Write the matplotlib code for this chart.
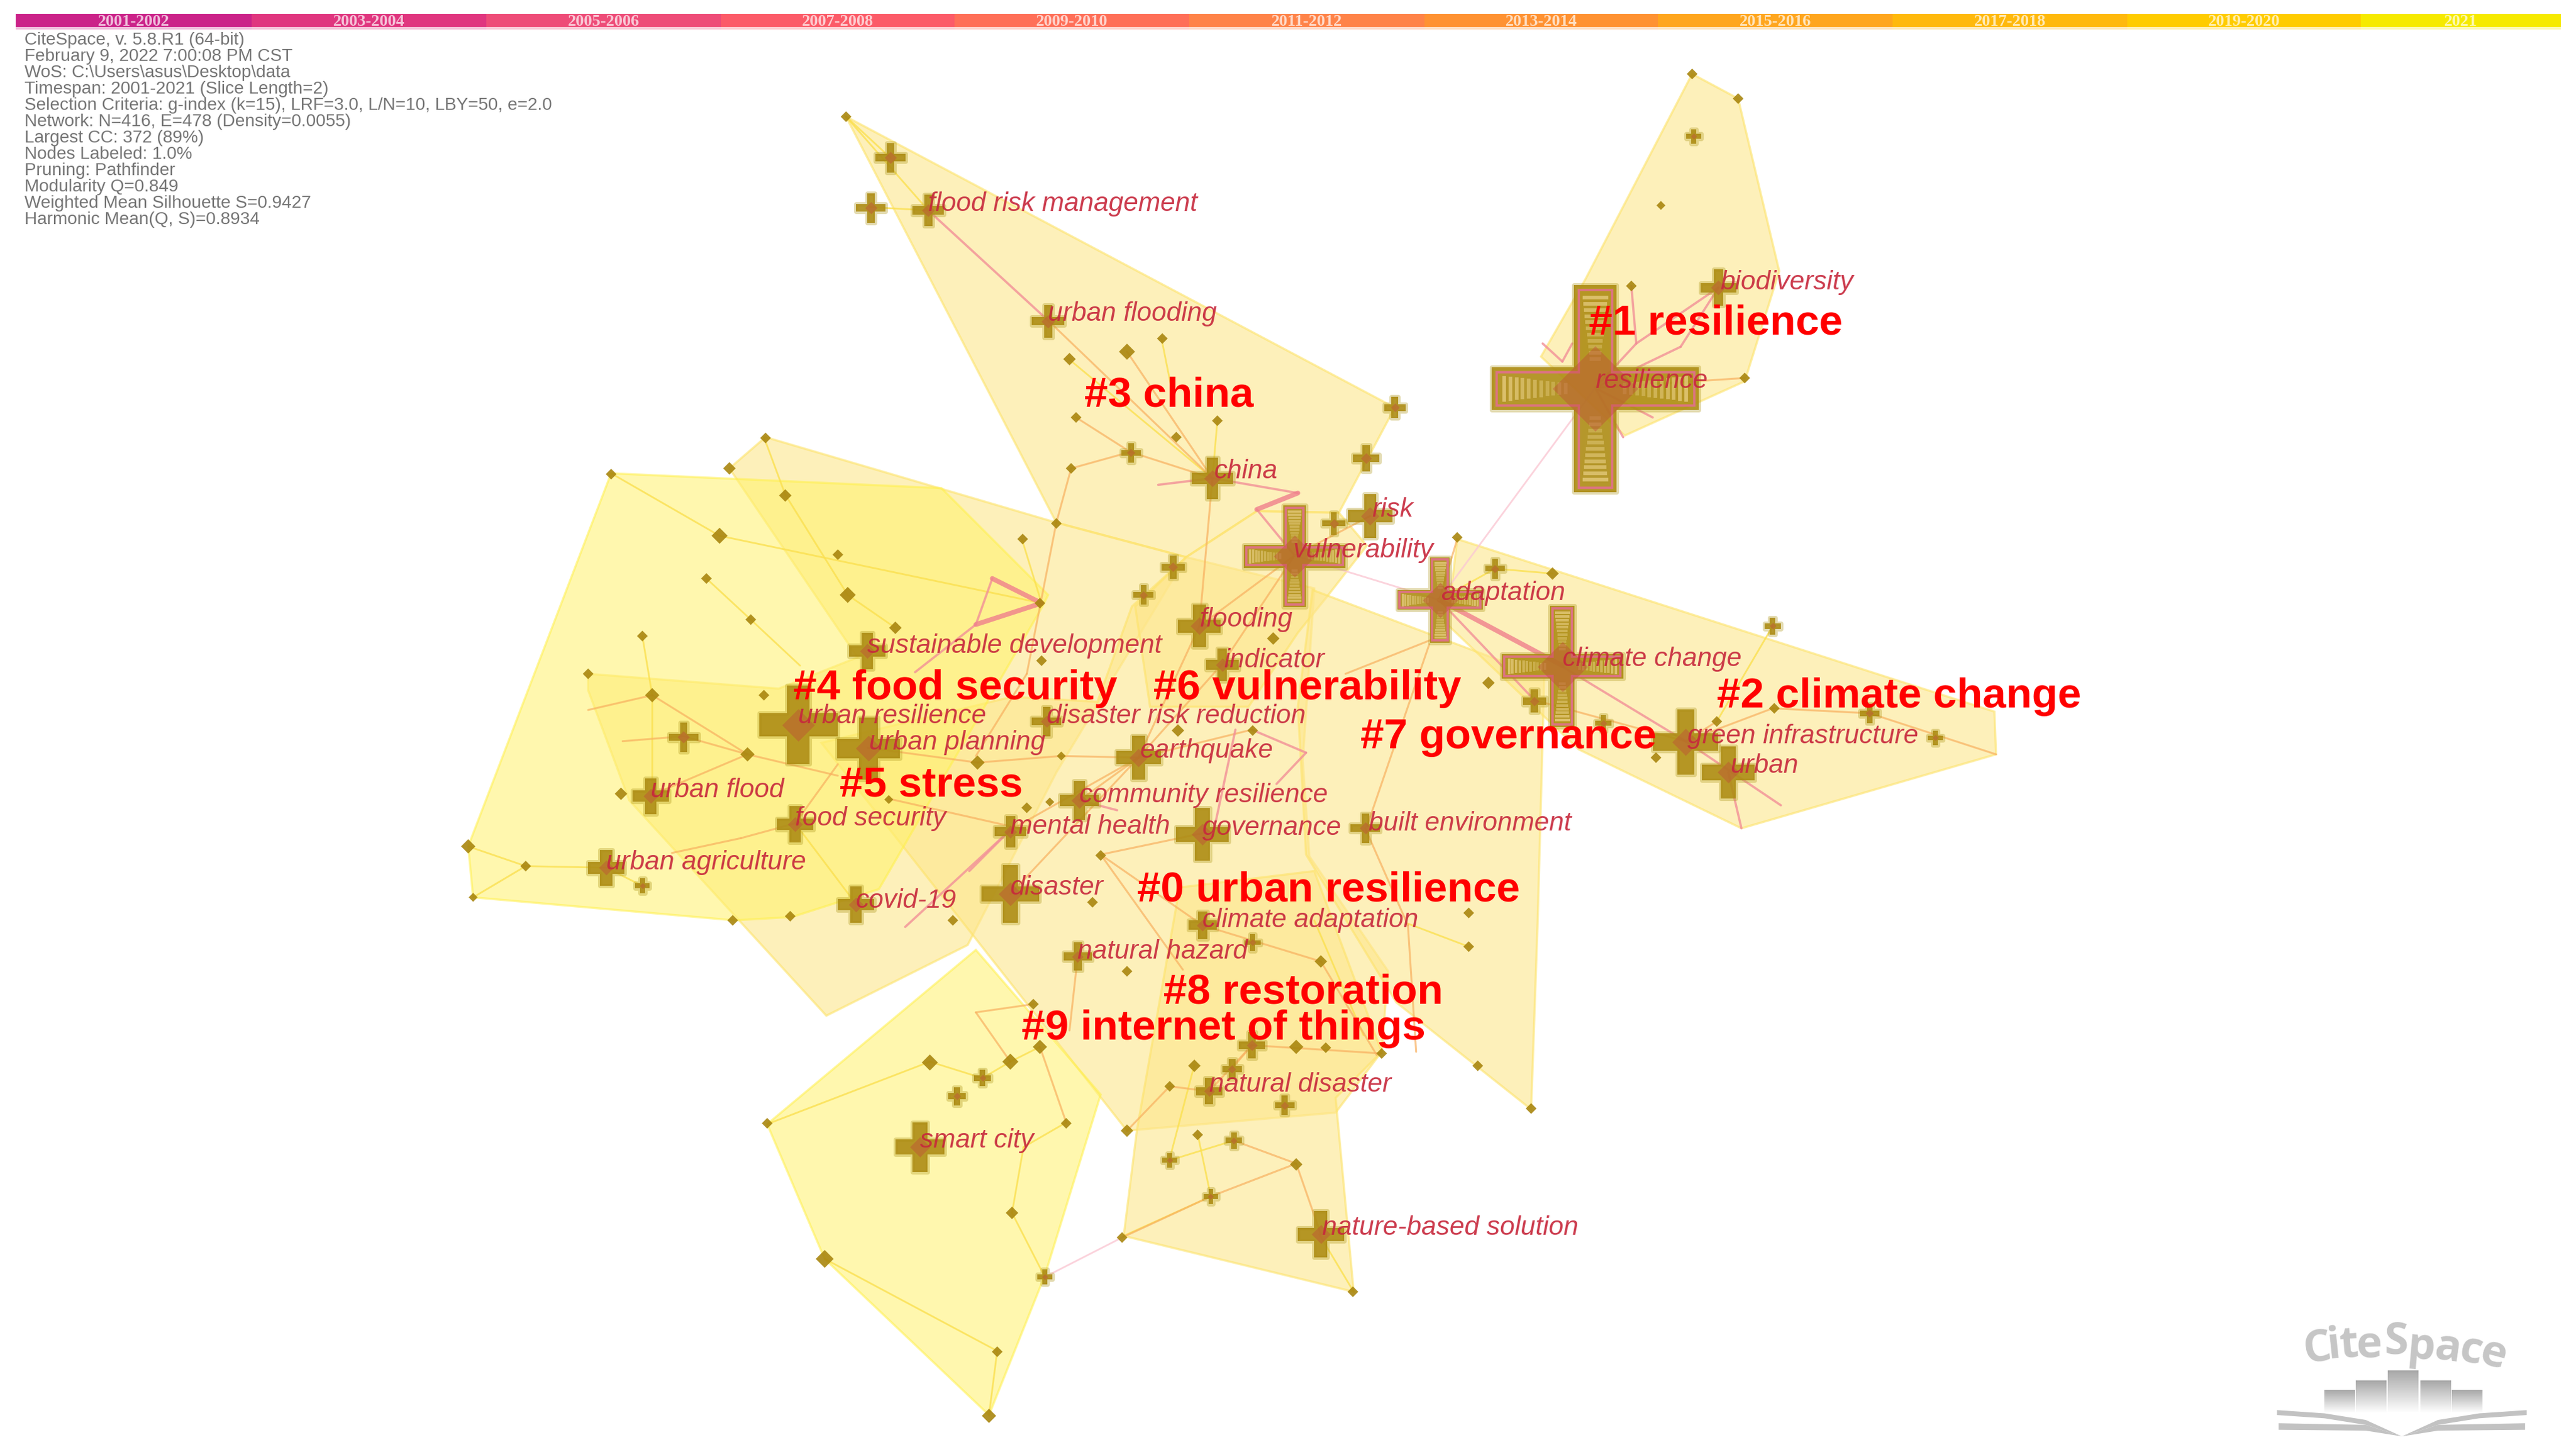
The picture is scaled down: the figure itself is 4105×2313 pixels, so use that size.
import numpy as np
import matplotlib
matplotlib.use('Agg')
import matplotlib.pyplot as plt
from matplotlib.patches import Polygon, Rectangle
from matplotlib.colors import LinearSegmentedColormap

VIEW_W = 1568
VIEW_H = 883.5

info_lines = ['CiteSpace, v. 5.8.R1 (64-bit)',
              'February 9, 2022 7:00:08 PM CST',
              'WoS: C:\\Users\\asus\\Desktop\\data',
              'Timespan: 2001-2021 (Slice Length=2)',
              'Selection Criteria: g-index (k=15), LRF=3.0, L/N=10, LBY=50, e=2.0',
              'Network: N=416, E=478 (Density=0.0055)',
              'Largest CC: 372 (89%)',
              'Nodes Labeled: 1.0%',
              'Pruning: Pathfinder',
              'Modularity Q=0.849',
              'Weighted Mean Silhouette S=0.9427',
              'Harmonic Mean(Q, S)=0.8934']

slice_labels = ['2001-2002', '2003-2004', '2005-2006', '2007-2008', '2009-2010', '2011-2012',
                '2013-2014', '2015-2016', '2017-2018', '2019-2020', '2021']
slice_colors = ['#cb2389', '#e0367f', '#ee4c78', '#fc5b68', '#ff6f58', '#ff8348',
                '#ff9232', '#ffa61e', '#ffb90c', '#ffcc00', '#f6ea00']
slice_edges = [9.5, 153, 296, 439, 581, 724, 867, 1009, 1152, 1295, 1437, 1559]

# cluster hulls, tan ones first
hulls_tan = [
    [(515, 71), (849, 248), (815, 312), (765, 311), (722, 339), (643, 318)],
    [(466, 266), (444, 285), (522, 400), (474, 419), (358, 410), (358, 420), (383, 487), (503, 618),
     (589, 575), (643, 470), (722, 339), (643, 318)],
    [(500, 452), (616, 424), (668, 427), (689, 369), (722, 339), (800, 358), (793, 463),
     (797, 521), (845, 591), (841, 640), (813, 677), (686, 688)],
    [(691, 369), (722, 339), (765, 311), (815, 312), (832, 332), (807, 364), (790, 385),
     (760, 430), (700, 430)],
    [(799, 359), (940, 412), (936, 560), (932, 675), (850, 610), (795, 520), (790, 430)],
    [(887, 328), (1214, 433), (1215, 459), (1060, 504), (961, 456), (881, 380)],
    [(718, 540), (800, 530), (841, 640), (813, 668), (824, 786), (684, 752), (692, 688)],
    [(1030, 45), (1058, 60), (1083, 165), (1062, 232), (989, 265), (938, 217), (965, 170)],
]
hulls_yellow = [
    [(372, 288), (573, 297), (638, 362), (634, 370), (535, 541), (482, 558), (447, 560),
     (288, 546), (285, 515)],
    [(594, 578), (467, 684), (502, 766), (602, 861), (636, 776), (670, 666)],
]

# labelled and larger nodes: x, y, half span, half arm width
cross_x = [971, 951, 876.5, 788, 486, 528.6, 1026, 1052, 615, 738, 730, 834, 560, 804, 732, 693,
           657, 615, 484, 396, 369, 521, 528, 416, 656, 732, 736, 1046, 831, 744, 637, 565, 530,
           542, 638, 849, 831.5, 812, 714, 696, 688.5, 762, 782, 582.5, 598, 910, 1079, 1138,
           1178, 976, 762.5, 750, 751, 712, 737, 636, 391, 934, 1031]
cross_y = [236.5, 405.5, 365, 338.5, 441, 455.5, 451.5, 470, 544, 291, 381, 314, 698, 751, 507.5, 461,
           487, 506, 501.5, 484.5, 528, 550.5, 396, 448.5, 582, 563, 664, 175, 504, 404.5, 439, 128, 126.5,
           96, 195.5, 248, 279, 318.5, 345, 362, 275.5, 636, 672.5, 667, 656, 346, 381, 434,
           449, 440, 573.5, 650.5, 694, 706, 728, 777, 539, 426.5, 83]
cross_r = [63, 37, 26, 31, 24, 19, 20, 16, 17.5, 12.5, 13, 13.5, 15, 14, 16, 13.5,
           12, 9.5, 11, 11, 11, 11, 11, 9, 8.5, 8.5, 8, 11, 9, 10, 9, 9.5, 9,
           9, 10, 6.5, 8, 7, 7, 6, 6, 8, 6, 5.5, 5, 6, 5, 6,
           4.5, 5, 5, 6, 5, 4.5, 4.5, 4.5, 4.5, 7, 4.5]
cross_w = [13, 7.5, 6, 7, 6, 5, 4.5, 4, 4, 3, 3.5, 3.2, 4, 3.5, 4, 3.5,
           3, 2.5, 3, 3, 3.2, 3, 3, 1.8, 2.2, 2.5, 2.2, 2.5, 2, 2.5, 2, 2.2, 2,
           2, 2.2, 1.8, 2, 1.5, 1.8, 1.5, 1.5, 2, 1.6, 1.6, 1.6, 1.5, 1.5, 1.5,
           1.3, 1.3, 1.3, 1.8, 1.5, 1.3, 1.3, 1.3, 1.3, 2, 1.3]

# nodes drawn with rings and a pink rim
ringed = [0, 1, 2, 3]

# tiny nodes
dots_x = [502, 602, 607, 616, 649, 467, 566, 615, 633, 683, 823.5, 686, 789, 729, 712, 727, 789, 807,
          841, 686, 804, 894, 894, 932, 899.5, 945, 887, 906, 775, 762.5, 717, 1080, 1045, 1008,
          1062, 993, 1030, 1058, 1011, 515, 707.5, 686, 651, 655, 741, 716, 652, 643, 622.5, 510,
          516, 633, 545, 372, 466, 444, 478, 438, 430, 457, 391, 358, 397, 465, 455, 378, 541, 595,
          646, 625, 639, 285, 320, 288, 446, 481, 580, 634, 670, 665, 629]
dots_y = [766, 861.5, 822.5, 738, 683.5, 683.5, 646.5, 646, 637, 753, 786, 688, 708.5, 690.5, 661, 648.5,
          637, 637.5, 641, 591, 585, 555.5, 576, 674.5, 648.5, 349, 327, 415.5, 388.5, 444.5, 444.5, 431,
          439, 461, 230, 174, 45, 60, 125, 71, 206, 214, 218.5, 254, 256, 266, 285, 318.5, 328, 337.5,
          362, 367, 382, 288.5, 266.5, 285, 301.5, 326, 352, 377, 387, 410, 423, 423, 459, 483, 486.5,
          464, 460, 491.5, 488, 515, 527, 546, 560, 557.5, 560, 402, 520.5, 549, 611]
dots_s = [5, 4, 3, 3.5, 3, 3, 4.5, 4.5, 4, 3, 3, 3.5, 3.5, 3, 3, 3.5, 4, 3,
          3, 3, 3.5, 3, 3, 3, 3, 3.5, 3, 3.5, 3.5, 3, 3.5, 3, 3, 3,
          3, 3, 3, 3, 2.5, 3, 3, 4.5, 3.5, 3, 3, 3, 3, 3, 3, 3,
          4.5, 3, 3.5, 3, 3, 3.5, 3.5, 4.5, 3, 3, 3, 3, 4, 3, 4, 3.5, 2.5, 4,
          2.5, 3, 2.5, 4, 3, 2.5, 3, 3, 3, 3, 3, 3, 3]

# links, split by colour: x1, y1, x2, y2
links_yellow = [(529, 126, 565, 128), (515, 71, 565, 128), (542, 96, 515, 71), (707, 206, 714, 241),
                (741, 256, 738, 291), (372, 288, 438, 326), (438, 326, 634, 367), (430, 352, 457, 377),
                (457, 377, 487, 405), (391, 387, 397, 423), (397, 423, 397, 484), (484, 501, 521, 550),
                (369, 528, 320, 527), (320, 527, 285, 515), (320, 527, 288, 546), (369, 528, 391, 539),
                (566, 646, 598, 656), (598, 656, 615, 646), (615, 646, 633, 637), (467, 684, 566, 646),
                (649, 683, 623, 698), (623, 698, 616, 738), (616, 738, 636, 777), (502, 766, 607, 822),
                (602, 861, 607, 822), (712, 706, 751, 694), (727, 648, 712, 705), (729, 690, 737, 728),
                (1045, 439, 1079, 381), (876, 365, 910, 346), (910, 346, 945, 349), (857, 562, 894, 576),
                (478, 301, 516, 362), (622, 328, 634, 367), (803, 751, 824, 786), (684, 752, 737, 728),
                (465, 266, 478, 301), (516, 362, 545, 382), (650, 218, 738, 291), (800, 560, 830, 630)]
links_orange = [(788, 338, 730, 381), (788, 338, 744, 404), (788, 338, 834, 314), (688, 275, 738, 291),
                (652, 285, 688, 275), (652, 285, 643, 318), (638, 195, 738, 291), (686, 214, 738, 291),
                (655, 254, 688, 275), (738, 291, 730, 381), (643, 318, 625, 410), (397, 423, 455, 459),
                (358, 432, 397, 423), (396, 484, 455, 459), (416, 448, 455, 459), (379, 451, 416, 448),
                (455, 459, 510, 472), (484, 501, 451, 510), (451, 510, 409, 519), (484, 501, 510, 465),
                (528, 455, 595, 464), (595, 464, 646, 460), (646, 460, 693, 461), (615, 505, 693, 461),
                (615, 544, 693, 461), (657, 487, 693, 461), (693, 461, 762, 444), (730, 381, 693, 461),
                (744, 404, 693, 461), (732, 507, 670, 520), (670, 520, 732, 563), (732, 563, 804, 585),
                (804, 585, 838, 642), (831, 504, 857, 563), (857, 563, 862, 640), (877, 387, 819, 410),
                (870, 392, 832, 503), (656, 582, 651, 627), (594, 616, 629, 611), (594, 616, 615, 646),
                (649, 683, 633, 637), (683, 753, 737, 728), (737, 728, 789, 708), (789, 708, 751, 694),
                (789, 708, 804, 751), (736, 664, 712, 661), (736, 664, 762, 636), (750, 650, 762, 636),
                (762, 636, 841, 641), (686, 688, 712, 661), (934, 426, 1026, 451), (1026, 451, 1079, 431),
                (1079, 431, 1138, 434), (1138, 434, 1215, 459), (1026, 451, 1045, 439), (876, 365, 887, 328),
                (971, 236, 1062, 230), (541, 486, 625, 505), (670, 520, 720, 590), (625, 410, 594, 460)]
links_pink = [(565, 128, 638, 195), (971, 236, 996, 209), (996, 209, 993, 174), (996, 209, 1046, 175),
              (1023, 211, 1046, 175), (971, 236, 1023, 211), (951, 220, 939, 209), (951, 220, 957, 209),
              (971, 236, 988, 266), (971, 236, 1006, 254), (876, 365, 934, 426), (950, 405, 1026, 451),
              (1052, 470, 1060, 504), (788, 338, 765, 310), (738, 291, 790, 300), (705, 295, 738, 291),
              (604, 352, 594, 380), (594, 380, 557, 409), (615, 505, 551, 564), (762, 444, 795, 458),
              (795, 458, 777, 477), (657, 487, 680, 493), (752, 444, 740, 500), (1026, 451, 1084, 490),
              (615, 505, 590, 530)]
links_thick = [(876, 365, 951, 405), (604, 352, 634, 367), (634, 367, 594, 380), (765, 310, 790, 300)]
links_faint = [(971, 236, 876, 365), (876, 365, 788, 338), (636, 777, 683, 753)]

label_names = ['flood risk management', 'urban flooding', 'biodiversity', 'resilience', 'china', 'risk',
               'vulnerability', 'adaptation', 'flooding', 'sustainable development', 'climate change',
               'indicator', 'urban resilience', 'disaster risk reduction', 'green infrastructure',
               'urban planning', 'earthquake', 'urban', 'urban flood', 'community resilience',
               'food security', 'mental health', 'governance', 'built environment', 'urban agriculture',
               'disaster', 'covid-19', 'climate adaptation', 'natural hazard', 'natural disaster',
               'smart city', 'nature-based solution']
label_x = [565, 638, 1047, 971, 739, 835, 787, 877, 730, 528, 951, 745, 486, 637, 1027, 529, 694, 1053,
           396, 657, 484, 615, 732, 833, 369, 615, 521, 732, 656, 736, 560, 805]
label_y = [124, 191, 172, 232, 287, 310, 335, 361, 377, 393, 401, 402, 436, 436, 448, 452, 457, 466,
           481, 484, 498, 503, 504, 501, 525, 540, 548, 560, 579, 660, 694, 747]

cluster_names = ['#1 resilience', '#3 china', '#4 food security', '#6 vulnerability', '#2 climate change',
                 '#7 governance', '#5 stress', '#0 urban resilience', '#8 restoration',
                 '#9 internet of things']
cluster_x = [967, 660, 483, 702, 1045, 828, 511, 692, 708, 622]
cluster_y = [197, 241, 419, 419, 424, 449, 478, 542, 604, 626]

# logo, letter by letter along the arch
logo_letters = ['C', 'i', 't', 'e', 'S', 'p', 'a', 'c', 'e']
logo_x = [1410.6, 1421, 1429.7, 1442.3, 1458.6, 1474, 1489.7, 1504.2, 1517.6]
logo_y = [821.2, 819.3, 819.3, 819.3, 816.7, 820, 821.2, 822.5, 825]
logo_rot = [8, 6, 4, 2, 0, -5, -8, -11, -15]
logo_bar_left = [1415, 1434, 1453.5, 1473.2, 1492.5]
logo_bar_top = [846, 840.5, 834.3, 840.5, 846]
logo_bar_width = 18.7
logo_bar_bottom = 860
book_upper = [(1386, 858), (1415, 860), (1440, 864), (1462, 874), (1440, 867), (1415, 863), (1386, 861)]
book_lower = [(1387, 866), (1440, 867), (1462, 874), (1440, 870.5), (1387, 870)]


fig = plt.figure(figsize=(41.05, 23.13), dpi=100)
ax = fig.add_axes([0, 0, 1, 1])
ax.set_xlim(0, VIEW_W)
ax.set_ylim(VIEW_H, 0)
ax.axis('off')

# timeline
for i in range(len(slice_labels)):
    ax.add_patch(Rectangle((slice_edges[i], 8.4), slice_edges[i + 1] - slice_edges[i], 8.2,
                           facecolor=slice_colors[i], edgecolor='none', zorder=2))
    ax.add_patch(Rectangle((slice_edges[i], 16.6), slice_edges[i + 1] - slice_edges[i], 1.2,
                           facecolor=slice_colors[i], edgecolor='none', alpha=0.3, zorder=2))
    ax.text((slice_edges[i] + slice_edges[i + 1]) / 2, 13, slice_labels[i], color='#ffffff', alpha=0.7,
            fontsize=19, family='Liberation Serif', weight='bold', ha='center', va='center', zorder=3)

# run info
for i, line in enumerate(info_lines):
    ax.text(15, 24.3 + i * 9.93, line, color='#767676', fontsize=20.2, family='Liberation Sans',
            ha='left', va='center', zorder=3)

# hulls
for pts in hulls_tan:
    ax.add_patch(Polygon(pts, closed=True, facecolor='#fde68c', edgecolor='#fde36a', alpha=0.6,
                         linewidth=2.5, zorder=1))
for pts in hulls_yellow:
    ax.add_patch(Polygon(pts, closed=True, facecolor='#fff26a', edgecolor='#fff04a', alpha=0.54,
                         linewidth=2.5, zorder=1))


def draw_links(links, color, lw, alpha=1.0):
    for x1, y1, x2, y2 in links:
        ax.plot([x1, x2], [y1, y2], color=color, lw=lw, alpha=alpha, zorder=4, solid_capstyle='round')


draw_links(links_yellow, '#fbe050', 2.0, 0.8)
draw_links(links_orange, '#f8b060', 2.2, 0.7)
draw_links(links_pink, '#f29098', 2.6, 0.8)
draw_links(links_thick, '#f0808c', 5.5, 0.8)
draw_links(links_faint, '#fbc8d4', 2.0, 0.8)


def cross_parts(x, y, r, w):
    return [(x - w, y - r), (x + w, y - r), (x + w, y - w), (x + r, y - w), (x + r, y + w), (x + w, y + w),
            (x + w, y + r), (x - w, y + r), (x - w, y + w), (x - r, y + w), (x - r, y - w), (x - w, y - w)]


# nodes
ax.scatter(dots_x, dots_y, s=[(v * 2.9) ** 2 for v in dots_s], marker='D', color='#a9860f', alpha=0.9,
           linewidths=0, zorder=5)

for i in range(len(cross_x)):
    x, y, r, w = cross_x[i], cross_y[i], cross_r[i], cross_w[i]
    if i not in ringed:
        w = w * 1.15
    # soft halo, then the body
    ax.add_patch(Polygon(cross_parts(x, y, r, w), closed=True, facecolor='none', edgecolor='#b09a20',
                         linewidth=5, alpha=0.35, joinstyle='round', zorder=5))
    ax.add_patch(Polygon(cross_parts(x, y, r, w), closed=True, facecolor='#ad8c14', edgecolor='none',
                         alpha=0.9, zorder=5))
    if i in ringed:
        # pink rim just inside the arm ends, pale tree rings towards them
        inset = w * 0.22
        ax.add_patch(Polygon(cross_parts(x, y, r - inset, w - inset), closed=True, facecolor='none',
                             edgecolor='#e2708e', linewidth=2.6, alpha=0.9, zorder=6))
        for t in np.linspace(0.3, 0.92, 11):
            half = (w - inset * 2) * t
            alpha = 0.05 + 0.7 * t
            for dx, dy in [(1, 0), (-1, 0), (0, 1), (0, -1)]:
                cx, cy = x + dx * (r - inset) * t, y + dy * (r - inset) * t
                ax.plot([cx - dy * half, cx + dy * half], [cy - dx * half, cy + dx * half], color='#ecd38a',
                        lw=r * 0.05 + 1, alpha=alpha, zorder=6)
    # reddish heart
    ax.scatter([x], [y], s=(r * 1.1) ** 2, color='#c0483a', alpha=0.4, linewidths=0, marker='D', zorder=6)

# labels
for i in range(len(label_names)):
    ax.text(label_x[i], label_y[i], label_names[i], color='#c7283c', fontsize=30.5, style='italic',
            family='Liberation Sans', ha='left', va='center', alpha=0.9, zorder=8)
for i in range(len(cluster_names)):
    ax.text(cluster_x[i], cluster_y[i], cluster_names[i], color='#ff0000', fontsize=48.5, weight='bold',
            family='Liberation Sans', ha='left', va='center', zorder=9)

# logo
for i in range(len(logo_letters)):
    ax.text(logo_x[i], logo_y[i], logo_letters[i], color='#c6c6c6', fontsize=50, weight='bold',
            family='Open Sans', rotation=logo_rot[i], ha='center', va='center', zorder=3)

fade = LinearSegmentedColormap.from_list('fade', ['#a8a8a8', '#ffffff'])
grad = np.linspace(0, 1, 64).reshape(-1, 1)
for i in range(len(logo_bar_left)):
    ax.imshow(grad, cmap=fade, aspect='auto', zorder=3,
              extent=(logo_bar_left[i], logo_bar_left[i] + logo_bar_width, logo_bar_bottom, logo_bar_top[i]))

center = 1462
for pts in (book_upper, book_lower):
    ax.add_patch(Polygon(pts, closed=True, facecolor='#c2c2c2', edgecolor='none', zorder=3))
    ax.add_patch(Polygon([(2 * center - px, py) for px, py in pts], closed=True, facecolor='#c2c2c2',
                         edgecolor='none', zorder=3))

# imshow resets the limits
ax.set_xlim(0, VIEW_W)
ax.set_ylim(VIEW_H, 0)

fig.savefig('out.png', dpi=100, facecolor='white')
